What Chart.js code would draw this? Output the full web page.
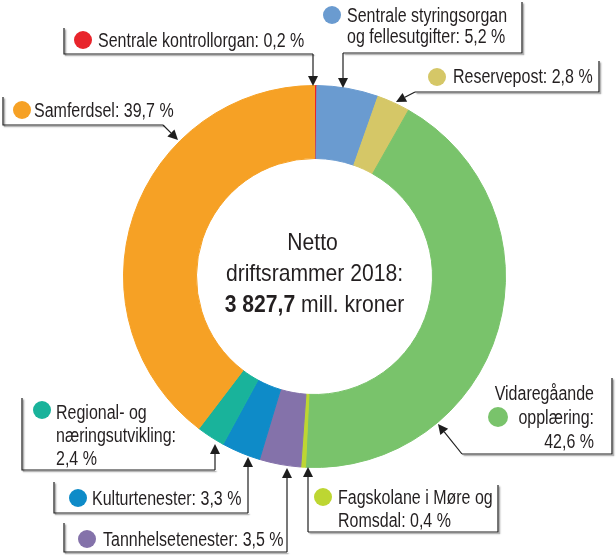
<!DOCTYPE html>
<html>
<head>
<meta charset="utf-8">
<script src="https://cdn.jsdelivr.net/npm/chart.js@4.4.1/dist/chart.umd.min.js"></script>
<style>
  html, body { margin: 0; padding: 0; background: #ffffff; }
  canvas { display: block; }
</style>
</head>
<body>
<canvas id="c" width="616" height="555"></canvas>
<script>
// ---------- data ----------
const categories = [
  'Sentrale kontrollorgan',
  'Sentrale styringsorgan og fellesutgifter',
  'Reservepost',
  'Vidaregåande opplæring',
  'Fagskolane i Møre og Romsdal',
  'Tannhelsetenester',
  'Kulturtenester',
  'Regional- og næringsutvikling',
  'Samferdsel'
];
const values = [0.2, 5.2, 2.8, 42.6, 0.4, 3.5, 3.3, 2.4, 39.7];
const centerLines = ['Netto', 'driftsrammer 2018:'];
const totalAmount = '3 827,7';
const totalUnit = ' mill. kroner';

// ---------- styles / layout ----------
const colors = ['#E8242B', '#6A9BD0', '#D5C767', '#79C36B', '#BDD632', '#8472AA', '#0E8BC8', '#19B39B', '#F6A125'];

// words per line, text anchor, baselines, dot, bracket path, arrow
const callouts = [
  { words: [99], x: 98,  base: [46.5], align: 'left', dot: [83, 40],
    path: [[64,28],[64,54],[313,54]], arrow: [[313,54],[313,86]] },
  { words: [2, 99], x: 347, base: [21.5, 43], align: 'left', dot: [332, 15],
    path: [[522,2],[522,53],[343,53]], arrow: [[343,53],[343,88]] },
  { words: [99], x: 453, base: [83], align: 'left', dot: [437, 77],
    path: [[599,61],[599,92],[415,92]], arrow: [[415,92],[396,102]] },
  { words: [1, 1, 99], x: 594, base: [400, 424, 448], align: 'right', dot: [498, 417], dotR: 10,
    path: [[612,378],[612,454],[462,454]], arrow: [[462,454],[438,424]] },
  { words: [4, 99], x: 338, base: [504, 527], align: 'left', dot: [323, 497],
    path: [[498,485],[498,532],[308,532]], arrow: [[308,532],[308,467]] },
  { words: [99], x: 103, base: [546], align: 'left', dot: [87, 539],
    path: [[64,523],[64,552],[287,552]], arrow: [[287,552],[287,468]] },
  { words: [99], x: 92,  base: [505], align: 'left', dot: [78, 498],
    path: [[54,482],[54,513],[248,513]], arrow: [[248,513],[248,457]] },
  { words: [2, 1, 99], x: 56, base: [419, 442, 465], align: 'left', dot: [42, 410],
    path: [[22,398],[22,470],[215,470]], arrow: [[215,470],[215,444]] },
  { words: [99], x: 34,  base: [117], align: 'left', dot: [22, 110],
    path: [[3,97],[3,125],[163,125]], arrow: [[163,125],[178,140]] }
];

const FONT = '"Liberation Sans", Arial, sans-serif';
const LABEL_SIZE = 20, LABEL_SX = 0.80;
const CENTER_SIZE = 24, CENTER_SX = 0.88;
const TEXT_COLOR = '#231F20';

function fmt(v) { return v.toFixed(1).replace('.', ',') + ' %'; }

function labelLines(i) {
  const full = categories[i] + ': ' + fmt(values[i]);
  const words = full.split(' ');
  const lines = [];
  let k = 0;
  for (const n of callouts[i].words) {
    if (k >= words.length) break;
    lines.push(words.slice(k, k + n).join(' '));
    k += n;
  }
  return lines;
}

function drawScaled(ctx, text, x, y, sx, align) {
  const w = ctx.measureText(text).width * sx;
  let left = x;
  if (align === 'right') left = x - w;
  else if (align === 'center') left = x - w / 2;
  ctx.save();
  ctx.translate(left, y);
  ctx.scale(sx, 1);
  ctx.textAlign = 'left';
  ctx.fillText(text, 0, 0);
  ctx.restore();
  return w;
}

const annotate = {
  id: 'annotate',
  afterDraw(chart) {
    const ctx = chart.ctx;
    const arc = chart.getDatasetMeta(0).data[0];
    const cx = arc.x, cy = arc.y;

    // center text
    ctx.save();
    ctx.fillStyle = TEXT_COLOR;
    ctx.textBaseline = 'alphabetic';
    ctx.font = `${CENTER_SIZE}px ${FONT}`;
    drawScaled(ctx, centerLines[0], cx - 2, 250, CENTER_SX, 'center');
    drawScaled(ctx, centerLines[1], cx, 280.5, CENTER_SX, 'center');
    ctx.font = `bold ${CENTER_SIZE}px ${FONT}`;
    const wb = ctx.measureText(totalAmount).width * CENTER_SX;
    ctx.font = `${CENTER_SIZE}px ${FONT}`;
    const wr = ctx.measureText(totalUnit).width * CENTER_SX;
    const start = cx - (wb + wr) / 2;
    ctx.font = `bold ${CENTER_SIZE}px ${FONT}`;
    drawScaled(ctx, totalAmount, start, 311.5, CENTER_SX, 'left');
    ctx.font = `${CENTER_SIZE}px ${FONT}`;
    drawScaled(ctx, totalUnit, start + wb, 311.5, CENTER_SX, 'left');
    ctx.restore();

    // callouts
    callouts.forEach((c, i) => {
      // bracket lines with soft shadow
      ctx.save();
      ctx.strokeStyle = '#1E1E1E';
      ctx.lineWidth = 1.2;
      ctx.lineJoin = 'miter';
      ctx.shadowColor = 'rgba(0,0,0,0.45)';
      ctx.shadowOffsetX = 1.5;
      ctx.shadowOffsetY = 1.5;
      ctx.shadowBlur = 1.5;
      ctx.beginPath();
      c.path.forEach((p, j) => j ? ctx.lineTo(p[0], p[1]) : ctx.moveTo(p[0], p[1]));
      ctx.stroke();
      ctx.restore();

      // arrow
      const [a, b] = c.arrow;
      const ang = Math.atan2(b[1] - a[1], b[0] - a[0]);
      const hl = 10, hw = 5;
      const bx = b[0] - hl * Math.cos(ang), by = b[1] - hl * Math.sin(ang);
      ctx.save();
      ctx.strokeStyle = '#1E1E1E';
      ctx.fillStyle = '#1E1E1E';
      ctx.lineWidth = 1.2;
      ctx.beginPath();
      ctx.moveTo(a[0], a[1]);
      ctx.lineTo(bx, by);
      ctx.stroke();
      ctx.beginPath();
      ctx.moveTo(b[0], b[1]);
      ctx.lineTo(bx + hw * Math.sin(ang), by - hw * Math.cos(ang));
      ctx.lineTo(bx - hw * Math.sin(ang), by + hw * Math.cos(ang));
      ctx.closePath();
      ctx.fill();
      ctx.restore();

      // dot
      ctx.save();
      ctx.fillStyle = colors[i];
      ctx.beginPath();
      ctx.arc(c.dot[0], c.dot[1], c.dotR || 9, 0, Math.PI * 2);
      ctx.fill();
      ctx.restore();

      // text
      ctx.save();
      ctx.fillStyle = TEXT_COLOR;
      ctx.textBaseline = 'alphabetic';
      ctx.font = `${LABEL_SIZE}px ${FONT}`;
      labelLines(i).forEach((ln, j) => {
        drawScaled(ctx, ln, c.x, c.base[j], LABEL_SX, c.align);
      });
      ctx.restore();
    });
  }
};

new Chart(document.getElementById('c'), {
  type: 'doughnut',
  data: {
    labels: categories,
    datasets: [{
      data: values,
      backgroundColor: colors,
      borderColor: colors,
      borderWidth: 1,
      hoverOffset: 0,
      offset: 0
    }]
  },
  options: {
    responsive: false,
    animation: false,
    cutout: 118,
    rotation: 0,
    layout: { padding: { left: 123, right: 110, top: 85, bottom: 87 } },
    plugins: {
      legend: { display: false },
      tooltip: { enabled: false }
    }
  },
  plugins: [annotate]
});
</script>
</body>
</html>
